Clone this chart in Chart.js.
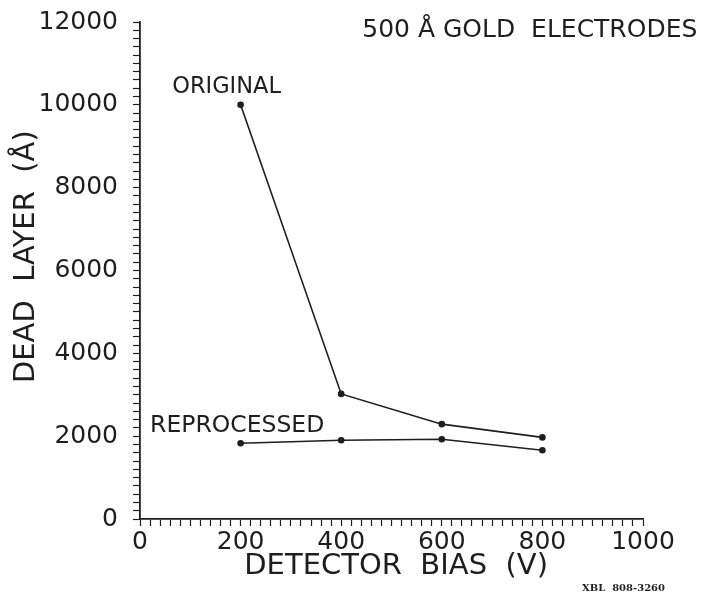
<!DOCTYPE html>
<html>
<head>
<meta charset="utf-8">
<script src="https://cdn.jsdelivr.net/npm/chart.js@4"></script>
<style>
  body { margin: 0; background: #fff; }
</style>
</head>
<body>
<canvas id="deadLayerChart" width="701" height="594"></canvas>
<script>
// Data
const biasVolts = [200, 400, 600, 800];
const originalDeadLayer = [10000, 3020, 2290, 1970];
const reprocessedDeadLayer = [1830, 1900, 1925, 1660];
const xTickLabels = [0, 200, 400, 600, 800, 1000];
const yTickLabels = [0, 2000, 4000, 6000, 8000, 10000, 12000];

const ink = "#1e1e1e";
const fontFamily = "'DejaVu Sans', sans-serif";

function toPoints(xs, ys) {
  return xs.map((x, i) => ({ x: x, y: ys[i] }));
}

// Text notes placed in data coordinates
const notes = [
  { text: "ORIGINAL", x: 64, y: 10290, size: 22.5, align: "left" },
  { text: "REPROCESSED", x: 20, y: 2100, size: 23.5, align: "left" },
  { text: "500 Å GOLD  ELECTRODES", x: 1108, y: 11640, size: 25, align: "right" },
];

const notesPlugin = {
  id: "notes",
  afterDraw(chart) {
    const { ctx, scales } = chart;
    ctx.save();
    ctx.fillStyle = ink;
    ctx.textBaseline = "alphabetic";
    notes.forEach((n) => {
      ctx.font = n.size + "px " + fontFamily;
      ctx.textAlign = n.align;
      ctx.fillText(n.text, scales.x.getPixelForValue(n.x), scales.y.getPixelForValue(n.y));
    });
    // figure number, bottom right
    ctx.font = "bold 10px 'DejaVu Serif', serif";
    ctx.textAlign = "right";
    ctx.fillText("XBL  808-3260", chart.width - 36, chart.height - 3);
    ctx.restore();
  },
};

const ctx = document.getElementById("deadLayerChart");
new Chart(ctx, {
  type: "line",
  data: {
    datasets: [
      {
        label: "Original",
        data: toPoints(biasVolts, originalDeadLayer),
        borderColor: ink,
        backgroundColor: ink,
        borderWidth: 1.6,
        pointRadius: 2.5,
        pointBackgroundColor: ink,
        tension: 0,
      },
      {
        label: "Reprocessed",
        data: toPoints(biasVolts, reprocessedDeadLayer),
        borderColor: ink,
        backgroundColor: ink,
        borderWidth: 1.6,
        pointRadius: 2.5,
        pointBackgroundColor: ink,
        tension: 0,
      },
    ],
  },
  options: {
    responsive: false,
    animation: false,
    layout: { padding: { top: 22, right: 58, bottom: 0, left: 0 } },
    plugins: {
      legend: { display: false },
      tooltip: { enabled: false },
    },
    scales: {
      x: {
        type: "linear",
        min: 0,
        max: 1000,
        afterFit: (scale) => {
          scale.height = 75;
          scale.paddingLeft = 0;
          scale.paddingRight = 0;
        },
        border: { display: true, color: ink, width: 1.8 },
        grid: {
          drawOnChartArea: false,
          drawTicks: true,
          tickLength: 7,
          tickColor: ink,
          tickWidth: 1.2,
        },
        ticks: {
          stepSize: 20,
          maxTicksLimit: 100,
          autoSkip: false,
          maxRotation: 0,
          padding: 1,
          color: ink,
          font: { family: fontFamily, size: 25 },
          callback: (v) => (xTickLabels.includes(v) ? String(v) : ""),
        },
        title: {
          display: true,
          text: " DETECTOR  BIAS  (V)",
          color: ink,
          font: { family: fontFamily, size: 29 },
          padding: { top: 0, bottom: 10 },
        },
      },
      y: {
        type: "linear",
        min: 0,
        max: 12000,
        afterFit: (scale) => {
          scale.width = 140;
          scale.paddingTop = 0;
          scale.paddingBottom = 0;
        },
        border: { display: true, color: ink, width: 1.8 },
        grid: {
          drawOnChartArea: false,
          drawTicks: true,
          tickLength: 7,
          tickColor: ink,
          tickWidth: 1.2,
        },
        ticks: {
          stepSize: 200,
          maxTicksLimit: 100,
          autoSkip: false,
          padding: 15,
          color: ink,
          font: { family: fontFamily, size: 25 },
          callback: (v) => (yTickLabels.includes(v) ? String(v) : ""),
        },
        title: {
          display: true,
          text: "   DEAD  LAYER  (Å)",
          color: ink,
          font: { family: fontFamily, size: 29 },
          padding: { top: 9, bottom: 0 },
        },
      },
    },
  },
  plugins: [notesPlugin],
});
</script>
</body>
</html>
